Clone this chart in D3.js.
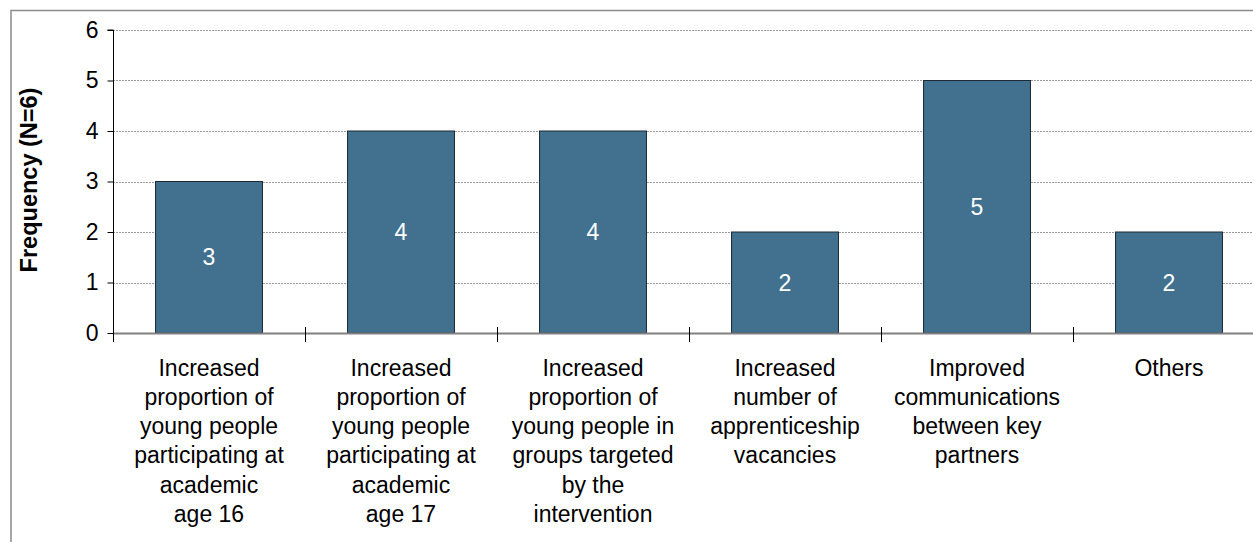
<!DOCTYPE html>
<html>
<head>
<meta charset="utf-8">
<script src="https://cdn.jsdelivr.net/npm/d3@7"></script>
<style>
  html, body { margin: 0; padding: 0; background: #fff; }
  svg { display: block; font-family: "Liberation Sans", Arial, sans-serif; }
</style>
</head>
<body>
<svg id="chart" width="1253" height="542"></svg>
<script>
const categories = [
  ["Increased", "proportion of", "young people", "participating at", "academic", "age 16"],
  ["Increased", "proportion of", "young people", "participating at", "academic", "age 17"],
  ["Increased", "proportion of", "young people in", "groups targeted", "by the", "intervention"],
  ["Increased", "number of", "apprenticeship", "vacancies"],
  ["Improved", "communications", "between key", "partners"],
  ["Others"]
];
const values = [3, 4, 4, 2, 5, 2];
const yTicks = [0, 1, 2, 3, 4, 5, 6];
const yTitle = "Frequency (N=6)";

(function () {
const svg = d3.select("#chart");
const mLeft = 113, mTop = 30, mBottom = 333, step = 192;
const fs = 23;
const ids = categories.map((c, i) => i);

const x = d3.scaleBand().domain(ids).range([mLeft, mLeft + step * ids.length]).padding(0);
const y = d3.scaleLinear().domain([0, 6]).range([mBottom, mTop]);
const barW = x.bandwidth() * 0.557;

// outer frame
svg.append("rect")
  .attr("x", 11).attr("y", 10.5)
  .attr("width", 1400).attr("height", 700)
  .attr("fill", "none").attr("stroke", "#8c8c8c").attr("stroke-width", 1.5);

// gridlines
svg.append("g").selectAll("line")
  .data(yTicks.filter(t => t > 0))
  .join("line")
  .attr("x1", mLeft).attr("x2", 1253)
  .attr("y1", d => Math.round(y(d)) + 0.5).attr("y2", d => Math.round(y(d)) + 0.5)
  .attr("stroke", "#9a9a9a").attr("stroke-width", 1)
  .attr("stroke-dasharray", "2,1");

// bars
svg.append("g").selectAll("rect")
  .data(values)
  .join("rect")
  .attr("x", (d, i) => x(i) + (x.bandwidth() - barW) / 2)
  .attr("y", d => y(d))
  .attr("width", barW)
  .attr("height", d => y(0) - y(d))
  .attr("fill", "#41718f")
  .attr("stroke", "#1b2a33").attr("stroke-width", 1);

// bar value labels
svg.append("g").selectAll("text")
  .data(values)
  .join("text")
  .attr("x", (d, i) => x(i) + x.bandwidth() / 2)
  .attr("y", d => (y(d) + y(0)) / 2 + 8)
  .attr("text-anchor", "middle")
  .attr("fill", "#ffffff")
  .attr("font-size", fs)
  .text(d => d);

// x axis line
svg.append("line")
  .attr("x1", mLeft).attr("x2", 1253)
  .attr("y1", mBottom + 0.5).attr("y2", mBottom + 0.5)
  .attr("stroke", "#808080").attr("stroke-width", 2);

// x ticks (cross) at band boundaries
const xb = ids.map(i => x(i)).concat([x(ids.length - 1) + x.bandwidth()]);
svg.append("g").selectAll("line")
  .data(xb)
  .join("line")
  .attr("x1", d => Math.round(d) + 0.5).attr("x2", d => Math.round(d) + 0.5)
  .attr("y1", mBottom - 6).attr("y2", mBottom + 9)
  .attr("stroke", "#000").attr("stroke-width", 1);

// y axis
const yAxis = d3.axisLeft(y).tickValues(yTicks).tickSize(6).tickPadding(9).tickFormat(d3.format("d"));
const gy = svg.append("g").attr("transform", `translate(${mLeft + 0.5},0)`).call(yAxis);
gy.select(".domain").attr("stroke", "#000").attr("d", `M-6,${mTop}H0V${mBottom + 9}`);
gy.selectAll(".tick line").attr("stroke", "#000");
gy.selectAll(".tick text").attr("font-size", fs).attr("fill", "#000")
  .attr("font-family", "Liberation Sans, Arial, sans-serif");

// y title
svg.append("text")
  .attr("transform", `translate(37,180) rotate(-90)`)
  .attr("text-anchor", "middle")
  .attr("font-weight", "bold")
  .attr("font-size", 23.5)
  .attr("fill", "#000")
  .text(yTitle);

// category labels
const cl = svg.append("g").selectAll("text")
  .data(categories)
  .join("text")
  .attr("text-anchor", "middle")
  .attr("font-size", fs)
  .attr("fill", "#000");
cl.each(function(lines, i) {
  d3.select(this).selectAll("tspan")
    .data(lines)
    .join("tspan")
    .attr("x", x(i) + x.bandwidth() / 2)
    .attr("y", (d, j) => 375.5 + j * 29.3)
    .text(d => d);
});
})();
</script>
</body>
</html>
